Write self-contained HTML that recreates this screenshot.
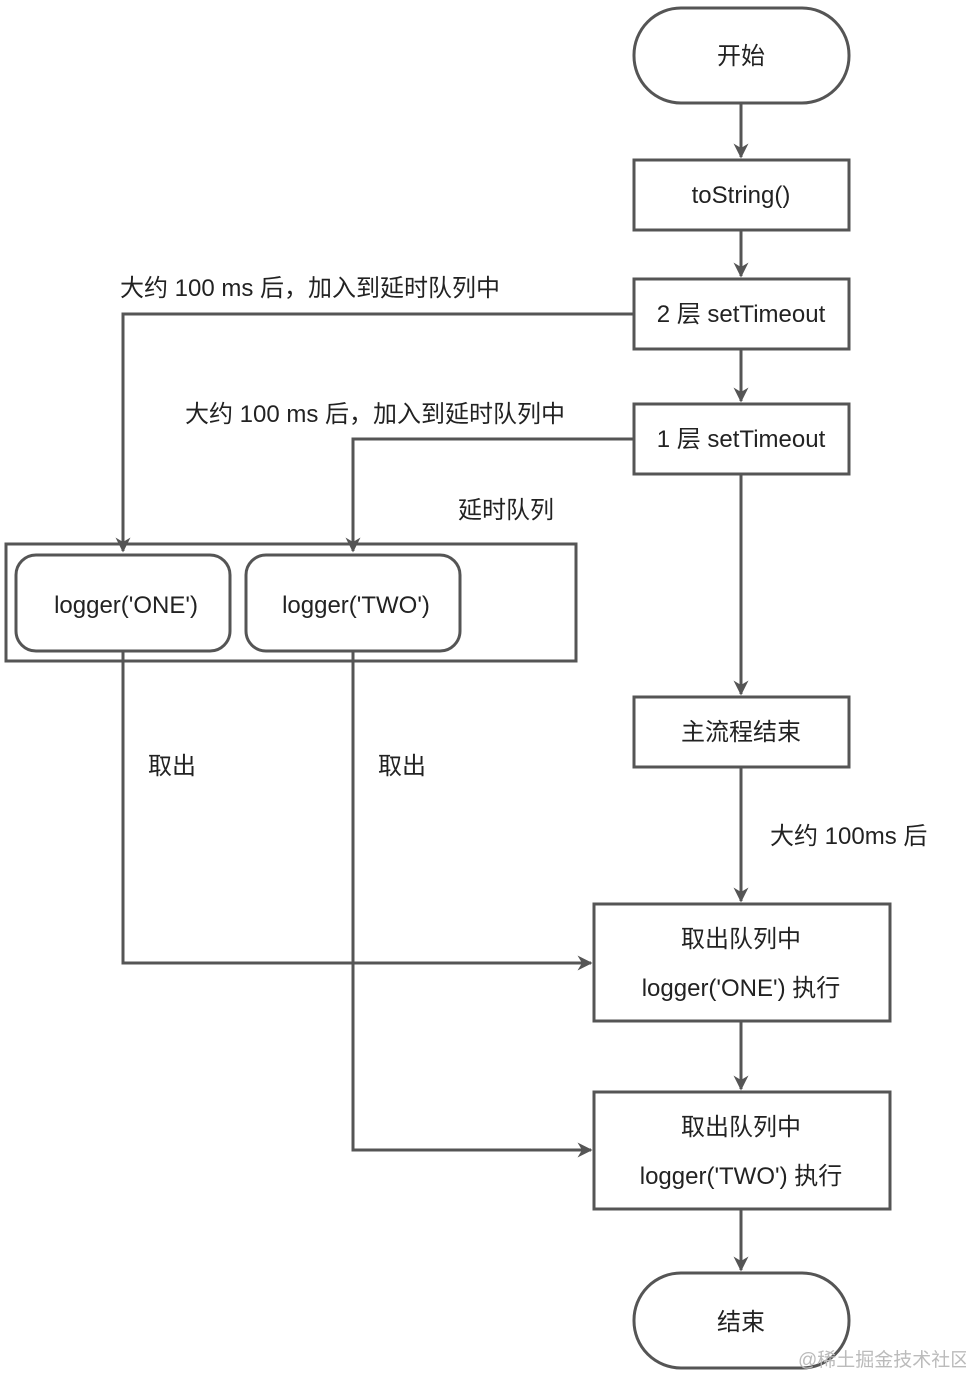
<!DOCTYPE html>
<html><head><meta charset="utf-8"><style>
html,body{margin:0;padding:0;background:#fff;}
svg text{font-family:"Liberation Sans","Noto Sans CJK SC",sans-serif;fill:#222;font-size:24px;}
</style></head><body>
<svg width="966" height="1376" viewBox="0 0 966 1376" xmlns="http://www.w3.org/2000/svg">
<defs>
<marker id="a" viewBox="0 0 10 10" refX="9" refY="5" markerWidth="5" markerHeight="5" orient="auto" markerUnits="strokeWidth">
<path d="M0,0 L10,5 L0,10 L3,5 z" fill="#555"/>
</marker>
</defs>
<g stroke="#555" stroke-width="3" fill="#fff">
<rect x="634" y="8" width="215" height="95" rx="47"/>
<rect x="634" y="160" width="215" height="70"/>
<rect x="634" y="279" width="215" height="70"/>
<rect x="634" y="404" width="215" height="70"/>
<rect x="634" y="697" width="215" height="70"/>
<rect x="594" y="904" width="296" height="117"/>
<rect x="594" y="1092" width="296" height="117"/>
<rect x="634" y="1273" width="215" height="95" rx="47"/>
<rect x="6" y="544" width="570" height="117"/>
<rect x="16" y="555" width="214" height="96" rx="20"/>
<rect x="246" y="555" width="214" height="96" rx="20"/>
</g>
<g stroke="#555" stroke-width="3" fill="none" marker-end="url(#a)">
<path d="M741 103 V157"/>
<path d="M741 230 V276"/>
<path d="M741 349 V401"/>
<path d="M741 474 V694"/>
<path d="M741 767 V901"/>
<path d="M741 1021 V1089"/>
<path d="M741 1209 V1270"/>
<path d="M634 314 H123 V551"/>
<path d="M634 439 H353 V551"/>
<path d="M123 651 V963 H591"/>
<path d="M353 651 V1150 H591"/>
</g>
<g text-anchor="middle">
<text x="741" y="64">开始</text>
<text x="741" y="203">toString()</text>
<text x="741" y="322">2 层 setTimeout</text>
<text x="741" y="447">1 层 setTimeout</text>
<text x="741" y="740">主流程结束</text>
<text x="741" y="947">取出队列中</text>
<text x="741" y="996">logger('ONE') 执行</text>
<text x="741" y="1135">取出队列中</text>
<text x="741" y="1184">logger('TWO') 执行</text>
<text x="741" y="1330">结束</text>
<text x="126" y="613">logger('ONE')</text>
<text x="356" y="613">logger('TWO')</text>
</g>
<text x="120" y="296">大约 100 ms 后，加入到延时队列中</text>
<text x="185" y="422">大约 100 ms 后，加入到延时队列中</text>
<text x="458" y="518">延时队列</text>
<text x="148" y="774">取出</text>
<text x="378" y="774">取出</text>
<text x="770" y="844">大约 100ms 后</text>
<text x="798" y="1366" style="fill:#bbb;font-size:19px">@稀土掘金技术社区</text>
</svg>
</body></html>
